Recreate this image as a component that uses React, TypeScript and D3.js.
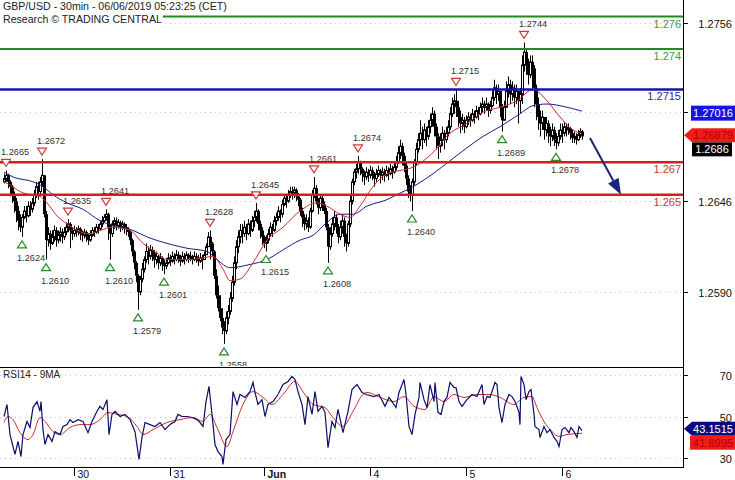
import React, { useEffect, useRef } from "react";
import * as d3 from "d3";

// ---------- DATA (prices in pips above 1.2500) ----------
const BASE = 1.25;
const firstOpen = 158;
const closes = [
  160,162,158,155,150,146,140,134,130,136,
  140,137,143,141,145,150,155,152,158,162,
  138,122,126,120,124,128,122,125,127,124,
  127,130,132,128,126,128,127,129,126,125,
  127,124,122,125,128,127,130,129,132,134,
  136,138,130,126,132,134,131,133,130,132,
  130,129,127,122,115,108,100,90,98,104,
  110,115,112,116,114,110,112,108,111,107,
  106,108,111,109,112,110,113,111,109,112,
  110,113,111,112,110,112,111,109,111,110,
  113,118,124,120,115,100,88,80,74,68,
  66,74,78,86,96,108,118,124,128,126,
  130,126,132,128,134,136,140,132,128,124,
  120,122,126,130,128,134,136,140,138,144,
  148,146,150,152,151,153,149,147,140,136,
  132,134,130,140,150,154,146,142,148,144,
  140,130,118,126,132,136,130,124,130,134,
  124,120,132,146,158,164,166,170,166,163,
  161,164,162,165,163,160,163,165,162,164,
  162,165,163,166,164,167,170,176,180,174,
  168,160,152,150,158,170,178,184,188,184,
  190,186,192,196,200,192,186,180,184,188,
  184,188,192,200,206,208,204,198,194,196,
  192,196,198,196,200,198,202,200,204,206,
  204,206,202,205,210,216,212,214,204,196,
  204,214,218,212,216,210,214,208,212,230,
  238,230,224,232,228,216,206,198,194,198,
  190,194,188,186,190,184,182,186,190,188,
  192,190,191,188,185,186,184,187,189,186,
];
const highs = [
  163,165,163,159,156,152,148,143,138,138,
  143,143,146,146,148,153,158,158,161,172,
  162,140,130,128,128,131,130,128,130,129,
  130,133,135,133,130,131,130,131,130,128,
  129,128,126,128,130,130,132,132,134,137,
  138,141,139,132,134,136,136,135,134,134,
  133,132,130,128,123,116,109,101,100,108,
  112,120,118,119,118,116,115,113,114,112,
  110,111,114,113,115,114,116,115,113,115,
  114,115,114,115,113,115,114,113,114,113,
  115,120,127,128,121,116,104,94,88,80,
  72,78,82,90,100,112,122,128,132,132,
  134,132,135,134,137,140,145,141,134,130,
  125,125,129,133,132,137,139,143,141,147,
  150,150,153,155,155,155,154,151,148,142,
  138,138,136,142,153,161,156,148,150,150,
  146,142,132,130,136,140,138,132,134,138,
  136,126,134,150,160,166,169,174,171,167,
  165,167,166,168,167,164,166,168,166,167,
  166,168,167,169,168,170,174,180,184,182,
  176,170,162,156,160,172,182,188,196,192,
  194,192,196,200,204,202,194,188,188,192,
  190,192,196,204,210,212,215,208,202,200,
  198,199,201,200,203,202,205,204,207,210,
  208,210,207,208,214,221,218,218,214,206,
  208,220,223,221,220,218,218,214,216,236,
  244,240,234,236,236,230,218,210,202,202,
  198,198,196,192,194,192,188,190,194,194,
  195,194,194,192,190,189,188,190,191,190,
];
const lows = [
  157,158,154,149,145,139,133,128,127,124,
  135,133,136,137,139,143,148,147,150,155,
  136,110,118,116,119,121,118,120,121,120,
  122,125,127,117,122,124,124,125,122,121,
  123,121,119,121,124,124,126,126,128,130,
  133,134,122,110,124,129,128,129,127,128,
  126,125,124,119,112,104,96,79,88,96,
  102,108,107,110,109,105,107,104,106,103,
  101,104,107,106,108,107,109,108,106,108,
  107,109,108,109,107,109,108,106,108,104,
  110,114,118,110,112,98,86,78,72,64,
  58,64,70,76,84,94,104,114,120,120,
  124,122,125,124,127,130,133,128,123,119,
  117,115,120,124,124,127,131,134,133,136,
  143,142,145,148,147,148,146,143,137,130,
  128,129,127,129,139,148,144,138,140,140,
  138,128,108,116,124,128,126,120,122,126,
  118,115,118,130,144,156,160,163,162,158,
  156,159,158,160,159,155,158,161,157,159,
  158,161,159,162,160,163,165,169,172,168,
  164,156,148,146,140,156,168,176,180,178,
  182,180,184,188,192,186,178,172,176,180,
  178,182,186,190,198,200,198,192,188,190,
  188,191,193,192,195,194,197,196,199,201,
  200,202,198,200,204,208,206,208,198,189,
  198,204,210,206,208,204,206,194,200,206,
  226,224,218,222,214,204,196,190,186,190,
  184,186,182,180,183,180,178,180,184,182,
  186,186,187,184,182,182,181,183,185,184,
];

// moving averages: [bar index, pips]
const blueMA: [number, number][] = [
  [0,164],[4.5,161],[14.5,158],[19.5,155],[24.5,150],[31.5,145],[39.5,141],[48,134],
  [54.5,131],[64.5,128],[71.5,124],[81.5,120],[91.5,117],[101.5,115],[106.5,110],[113,105],
  [123,107],[131.5,110],[139.5,116],[148,122],[154.5,125],[161.5,133],[168,138],[174.5,138],
  [181.5,143],[191.5,147],[198,151],[204.5,155],[214.5,163],[223,171],[231.5,179],[239.5,186],
  [248,192],[258,200],[264.5,205],[271.5,206],[281.5,204],[289,201.6],
];
const redMA: [number, number][] = [
  [0,158],[3,156],[8,152],[13,150],[18,149],[21.5,145],[26.5,137],[31.5,132],[36.5,128],
  [43,126],[48,128],[54.5,130],[63,128],[69.5,120],[76.5,114],[81.5,110],[91.5,110],[99.5,111],
  [104.5,112],[109.5,104],[113,97],[118,98],[124.5,108],[131.5,122],[139.5,130],[148,140],
  [156.5,145],[161.5,143],[168,138],[173,136],[178,143],[184.5,155],[191.5,163],[198,165],
  [204.5,167],[214.5,176],[223,188],[231.5,194],[239.5,201],[248,204],[256.5,208],[264.5,215],
  [271.5,208],[278,198],[284.5,190],[289,187.9],
];

// RSI14 and its 9MA: [bar index, value]
const rsi: [number, number][] = [
  [0,50],[1.5,55.8],[3,41.3],[5.5,31.7],[7,38],[8.5,30.7],[9.5,41.3],[11.5,47.6],[13,44.7],
  [14.5,54.3],[16.5,57.2],[18,52.5],[18.5,57.2],[19.5,43.7],[20.5,36.5],[22,41.3],[24,38],
  [25.5,42.7],[28,41.3],[29.5,45.2],[31.5,46.1],[33,48.5],[34.5,47.1],[37,48.5],[39.5,47.6],
  [42,42.2],[44,47.6],[46.5,52.5],[48,54.9],[49.5,53.4],[51.5,58.1],[52.5,41.3],[54,51],
  [55.5,52.5],[58,50],[60.5,51],[63,48.5],[65.5,42.7],[67.5,29.3],[69,39.9],[70.5,47.1],
  [73,46.1],[75.5,45.2],[78,47.1],[80.5,43.7],[83,46.1],[85.5,47.6],[87,51],[89,50],[91.5,50],
  [94,49.5],[96.5,48.5],[98,47.1],[99.5,45.2],[101,57.2],[102.5,64.5],[104,51],[105.5,36.5],
  [107,33.1],[109,30.7],[109.5,26.9],[111,38.9],[113,41.3],[114.5,62],[116.5,55.8],[118,60.6],
  [120.5,59.2],[123,62],[124.5,66.4],[125.5,61.6],[127,55.8],[129,58.1],[130.5,50],[132,55.8],
  [134.5,57.2],[137,60.6],[139.5,65.4],[142,66.9],[144,69.3],[145.5,67.8],[147,62],[149,55.8],
  [150.5,46.1],[152,59.6],[154,51],[155.5,62],[157,52.5],[159,54.9],[160.5,52],[162,35],
  [164,47.6],[165.5,44.7],[167,53.4],[169.5,42.2],[172,52.5],[174,63],[176.5,65.4],[179,61.6],
  [181.5,60.5],[185,59.6],[187.5,60.6],[190.5,54.9],[192.5,59.2],[194,57.2],[196,54.3],
  [197.5,61.6],[200,67.8],[201,60.6],[202.5,45.2],[204,41.3],[205.5,51],[207.5,59.2],[208,66.4],
  [210,58.1],[211.5,54.3],[213,65.4],[215,57.2],[215.5,66.4],[217,52],[218.5,51],[220,57.2],
  [221.5,59.2],[223,66.4],[225,63.9],[226,63.9],[227.5,57.2],[229,54.9],[231.5,58.1],[234,60.6],
  [236.5,59.6],[239,65.4],[240,55.8],[241.5,59.6],[243,59.2],[245.5,66.4],[246.5,65.4],
  [247.5,54.3],[249,47.1],[250.5,55.8],[252.5,60.6],[254,59.6],[255.5,57.2],[257.5,52],
  [258,46.1],[258.5,69.3],[260,65.4],[261,58.1],[262.5,62],[263.5,63],[265,51],[265.5,45.2],
  [267.5,43.7],[268,39.9],[270,45.2],[271.5,42.2],[273,43.7],[275,39.9],[276.5,38],[277.5,35.5],
  [279,43.7],[280.5,44.7],[282.5,42.2],[283.5,44.7],[285,42.7],[286.5,39.9],[287.5,45.2],
  [289,43.15],
];
const rsiMA: [number, number][] = [
  [0,47.1],[2,50],[4.5,48.5],[8,42.2],[12,38.9],[14.5,41.3],[18,49.5],[20.5,47.6],[24.5,42.7],
  [28,41.3],[33,44.7],[38,46.1],[43,46.1],[48,48.5],[52,51.9],[56.5,51],[61.5,50],[66.5,45.2],
  [69.5,41.3],[74.5,43.7],[81.5,47.1],[88,48.5],[94.5,49.5],[99.5,47.6],[103,51],[106.5,44.7],
  [111.5,35.5],[114.5,42.7],[119.5,55.8],[124.5,62],[129.5,59.2],[134,55.8],[139.5,60.6],
  [145.5,66.9],[149.5,62],[154.5,55.8],[160.5,54.3],[164.5,49.5],[169.5,45.2],[174.5,52.5],
  [179.5,60.6],[181.5,61.6],[188,59.2],[195,57.2],[200,59.6],[205,54.9],[210.5,53.4],[215,59.6],
  [220,57.2],[225,60.6],[230,59.2],[236.5,60.6],[243,60.6],[248,59.2],[255,55.8],[260,59.2],
  [264,59.6],[266.5,54.3],[270,47.6],[274,42.7],[277.5,40.4],[281.5,41.3],[289,41.9],
];

const priceTicks = [1.2756, 1.2701, 1.2646, 1.259];
const rsiTicks = [70, 50, 30];
const dayTickIdx = [35, 83, 130, 183, 231, 279];
const dayTickLabels = ["30", "31", "Jun", "4", "5", "6"];
const levelPrices = [1.276, 1.274, 1.2715, 1.267, 1.265];
const levelLabels = ["1.276", "1.274", "1.2715", "1.267", "1.265"];
const levelKinds = ["target", "target", "pivot", "support", "support"];
const highMarkIdx = [1, 19, 32, 51, 103, 126, 155, 177, 226, 260];
const highMarkPrice = [1.2665, 1.2672, 1.2635, 1.2641, 1.2628, 1.2645, 1.2661, 1.2674, 1.2715, 1.2744];
const lowMarkIdx = [9, 21, 53, 67, 80, 110, 131, 162, 204, 249, 276];
const lowMarkPrice = [1.2624, 1.261, 1.261, 1.2579, 1.2601, 1.2558, 1.2615, 1.2608, 1.264, 1.2689, 1.2678];
const lastBlueMA = 1.27016;
const lastRedMA = 1.26879;
const lastPrice = 1.2686;
const lastRsi = 43.1515;
const lastRsiMA = 41.8995;
const arrowFrom: [number, number] = [293, 1.2685];
const arrowTo: [number, number] = [308.5, 1.265];
const titleLines = ["GBP/USD - 30min - 06/06/2019 05:23:25 (CET)", "Research \u00A9 TRADING CENTRAL"];

const FONT = "'Liberation Sans', Arial, sans-serif";
const kindColor: Record<string, string> = { target: "#1f8a1f", pivot: "#1414a8", support: "#d41e1e" };
const kindWidth: Record<string, number> = { target: 2, pivot: 2.5, support: 2.5 };
const kindText: Record<string, string> = { target: "#3c9a3c", pivot: "#2a2a9a", support: "#cc3333" };

export default function App() {
  const ref = useRef<SVGSVGElement>(null);

  useEffect(() => {
    document.body.style.margin = "0";
    const svg = d3.select(ref.current);
    svg.selectAll("*").remove();

    const AX = 683;
    const MAIN_BOTTOM = 366;
    const RSI_TOP = 367;
    const RSI_BOTTOM = 467;

    const x = d3.scaleLinear().domain([0, 289]).range([4, 582]);
    const y = d3.scaleLinear().domain([1.259, 1.2756]).range([292, 23]);
    const yr = d3.scaleLinear().domain([30, 70]).range([458, 375]);
    const P = (v: number) => BASE + v / 10000;

    svg.append("rect").attr("width", 735).attr("height", 480).attr("fill", "#fff");

    const defs = svg.append("defs");
    defs.append("clipPath").attr("id", "mainclip").append("rect")
      .attr("x", 0).attr("y", 0).attr("width", AX).attr("height", MAIN_BOTTOM);
    defs.append("clipPath").attr("id", "rsiclip").append("rect")
      .attr("x", 0).attr("y", RSI_TOP).attr("width", AX).attr("height", RSI_BOTTOM - RSI_TOP);

    // grid
    const main = svg.append("g").attr("clip-path", "url(#mainclip)");
    priceTicks.forEach((t) => {
      main.append("line").attr("x1", 0).attr("x2", AX)
        .attr("y1", Math.round(y(t)) + 0.5).attr("y2", Math.round(y(t)) + 0.5)
        .attr("stroke", "#c4c4c4").attr("stroke-dasharray", "1,4");
    });

    // candles
    const bars = closes.map((c, i) => {
      const o = i === 0 ? firstOpen : closes[i - 1];
      return { i, o, c, h: Math.max(highs[i], o, c), l: Math.min(lows[i], o, c) };
    });
    const cg = main.append("g");
    bars.forEach((b) => {
      const cx = Math.round(x(b.i));
      cg.append("line").attr("x1", cx + 0.5).attr("x2", cx + 0.5)
        .attr("y1", y(P(b.h))).attr("y2", y(P(b.l))).attr("stroke", "#000").attr("stroke-width", 1);
      const top = y(P(Math.max(b.o, b.c)));
      const bot = y(P(Math.min(b.o, b.c)));
      const hgt = Math.max(1.5, bot - top);
      if (b.c >= b.o) {
        cg.append("rect").attr("x", cx - 0.5).attr("y", top).attr("width", 2).attr("height", hgt)
          .attr("fill", "#fff").attr("stroke", "#000").attr("stroke-width", 1);
      } else {
        cg.append("rect").attr("x", cx - 1).attr("y", top).attr("width", 3).attr("height", hgt)
          .attr("fill", "#000");
      }
    });

    // moving averages
    const maLine = d3.line<[number, number]>().x((d) => x(d[0])).y((d) => y(P(d[1]))).curve(d3.curveMonotoneX);
    main.append("path").attr("d", maLine(blueMA)).attr("fill", "none").attr("stroke", "#1c1c8c").attr("stroke-width", 1);
    main.append("path").attr("d", maLine(redMA)).attr("fill", "none").attr("stroke", "#cc2a2a").attr("stroke-width", 1);

    // level lines
    levelPrices.forEach((p, k) => {
      const yy = y(p);
      main.append("line").attr("x1", 0).attr("x2", AX).attr("y1", yy).attr("y2", yy)
        .attr("stroke", kindColor[levelKinds[k]]).attr("stroke-width", kindWidth[levelKinds[k]]);
      main.append("text").attr("x", AX - 2).attr("y", yy + 11).attr("text-anchor", "end")
        .attr("font-family", FONT).attr("font-size", 11).attr("fill", kindText[levelKinds[k]])
        .text(levelLabels[k]);
    });

    // markers
    highMarkIdx.forEach((i, k) => {
      const cx = x(i);
      const yy = y(highMarkPrice[k]);
      main.append("path")
        .attr("d", `M${cx - 4.5},${yy - 11}L${cx + 4.5},${yy - 11}L${cx},${yy - 4}Z`)
        .attr("fill", "#fff").attr("stroke", "#d23a3a").attr("stroke-width", 1.2);
      main.append("text").attr("x", cx - 5).attr("y", yy - 15)
        .attr("font-family", FONT).attr("font-size", 9.2).attr("fill", "#333")
        .text(highMarkPrice[k].toFixed(4));
    });
    lowMarkIdx.forEach((i, k) => {
      const cx = x(i);
      const yy = y(lowMarkPrice[k]);
      main.append("path")
        .attr("d", `M${cx - 4.5},${yy + 11}L${cx + 4.5},${yy + 11}L${cx},${yy + 4}Z`)
        .attr("fill", "#fff").attr("stroke", "#2a8a2a").attr("stroke-width", 1.2);
      main.append("text").attr("x", cx - 5).attr("y", yy + 24)
        .attr("font-family", FONT).attr("font-size", 9.2).attr("fill", "#333")
        .text(lowMarkPrice[k].toFixed(4));
    });

    // forecast arrow
    const ax1 = x(arrowFrom[0]), ay1 = y(arrowFrom[1]);
    const ax2 = x(arrowTo[0]), ay2 = y(arrowTo[1]);
    const ang = Math.atan2(ay2 - ay1, ax2 - ax1);
    const headL = 16, headW = 6;
    const bx = ax2 - headL * Math.cos(ang), by = ay2 - headL * Math.sin(ang);
    main.append("line").attr("x1", ax1).attr("y1", ay1).attr("x2", bx).attr("y2", by)
      .attr("stroke", "#1a237e").attr("stroke-width", 2);
    main.append("path")
      .attr("d", `M${ax2},${ay2}L${bx + headW * Math.sin(ang)},${by - headW * Math.cos(ang)}L${bx - headW * Math.sin(ang)},${by + headW * Math.cos(ang)}Z`)
      .attr("fill", "#1a237e");

    // title with white background
    titleLines.forEach((t, k) => {
      const g = svg.append("g");
      const bg = g.append("rect").attr("fill", "#fff");
      const tx = g.append("text").attr("x", 3).attr("y", 10 + k * 12.5)
        .attr("font-family", FONT).attr("font-size", 10.6).attr("fill", "#222").text(t);
      const w = (tx.node() as SVGTextElement).getComputedTextLength();
      bg.attr("x", 0).attr("y", k * 12.5).attr("width", w + 4).attr("height", 12.5);
    });

    // RSI panel
    svg.append("line").attr("x1", 0).attr("x2", AX).attr("y1", RSI_TOP + 0.5).attr("y2", RSI_TOP + 0.5).attr("stroke", "#000");
    svg.append("line").attr("x1", 0).attr("x2", AX).attr("y1", RSI_BOTTOM + 0.5).attr("y2", RSI_BOTTOM + 0.5).attr("stroke", "#000");
    const rg = svg.append("g").attr("clip-path", "url(#rsiclip)");
    rsiTicks.forEach((t) => {
      rg.append("line").attr("x1", 0).attr("x2", AX)
        .attr("y1", Math.round(yr(t)) + 0.5).attr("y2", Math.round(yr(t)) + 0.5)
        .attr("stroke", "#c4c4c4").attr("stroke-dasharray", "1,4");
    });
    const rLine = d3.line<[number, number]>().x((d) => x(d[0])).y((d) => yr(d[1]));
    rg.append("path").attr("d", rLine.curve(d3.curveMonotoneX)(rsiMA)).attr("fill", "none").attr("stroke", "#cc2a2a").attr("stroke-width", 1);
    rg.append("path").attr("d", rLine.curve(d3.curveLinear)(rsi)).attr("fill", "none").attr("stroke", "#0d0d6e").attr("stroke-width", 1.2);
    svg.append("text").attr("x", 3).attr("y", 378).attr("font-family", FONT).attr("font-size", 10)
      .attr("fill", "#222").text("RSI14 - 9MA");

    // value badge positions
    const by1 = y(lastBlueMA) + 2;
    const ry1 = y(lastRedMA) + 2;
    const ky = ry1 + 14;
    const badgeYs = [by1, ry1, ky];

    // right axis
    svg.append("line").attr("x1", AX + 0.5).attr("x2", AX + 0.5).attr("y1", 0).attr("y2", RSI_BOTTOM + 1).attr("stroke", "#000");
    priceTicks.forEach((t) => {
      const yy = Math.round(y(t)) + 0.5;
      svg.append("line").attr("x1", AX).attr("x2", AX + 5).attr("y1", yy).attr("y2", yy).attr("stroke", "#000");
      const hidden = badgeYs.some((b) => Math.abs(b - yy) < 10);
      if (!hidden) {
        svg.append("text").attr("x", 732).attr("y", yy + 4).attr("text-anchor", "end")
          .attr("font-family", FONT).attr("font-size", 11).attr("fill", "#111").text(t.toFixed(4));
      }
    });
    rsiTicks.forEach((t) => {
      const yy = Math.round(yr(t)) + 0.5;
      svg.append("line").attr("x1", AX).attr("x2", AX + 5).attr("y1", yy).attr("y2", yy).attr("stroke", "#000");
      svg.append("text").attr("x", 732).attr("y", yy + 4).attr("text-anchor", "end")
        .attr("font-family", FONT).attr("font-size", 11).attr("fill", "#111").text(String(t));
    });

    // value badges
    svg.append("rect").attr("x", 691).attr("y", by1 - 7.5).attr("width", 44).attr("height", 15).attr("fill", "#1414e6");
    svg.append("text").attr("x", 713).attr("y", by1 + 4).attr("text-anchor", "middle").attr("font-family", FONT)
      .attr("font-size", 11).attr("fill", "#fff").text(lastBlueMA.toFixed(5));
    svg.append("path").attr("d", `M${AX + 1},${ry1}L${AX + 9},${ry1 - 7}L735,${ry1 - 7}L735,${ry1 + 7}L${AX + 9},${ry1 + 7}Z`).attr("fill", "#ef1c1c");
    svg.append("text").attr("x", 713).attr("y", ry1 + 4).attr("text-anchor", "middle").attr("font-family", FONT)
      .attr("font-size", 11).attr("fill", "#b40000").text(lastRedMA.toFixed(5));
    svg.append("rect").attr("x", 692).attr("y", ky - 7).attr("width", 40).attr("height", 14).attr("fill", "#000");
    svg.append("text").attr("x", 712).attr("y", ky + 4).attr("text-anchor", "middle").attr("font-family", FONT)
      .attr("font-size", 11).attr("fill", "#fff").text(lastPrice.toFixed(4));

    const ny = yr(lastRsi) - 2;
    svg.append("path").attr("d", `M${AX + 1},${ny}L${AX + 9},${ny - 7}L735,${ny - 7}L735,${ny + 7}L${AX + 9},${ny + 7}Z`).attr("fill", "#0a0a80");
    svg.append("text").attr("x", 713).attr("y", ny + 4).attr("text-anchor", "middle").attr("font-family", FONT)
      .attr("font-size", 11).attr("fill", "#fff").text(lastRsi.toFixed(4));
    const my = ny + 14;
    svg.append("rect").attr("x", 690).attr("y", my - 7).attr("width", 45).attr("height", 14).attr("fill", "#ef1c1c");
    svg.append("text").attr("x", 713).attr("y", my + 4).attr("text-anchor", "middle").attr("font-family", FONT)
      .attr("font-size", 11).attr("fill", "#b40000").text(lastRsiMA.toFixed(4));

    // date axis
    dayTickIdx.forEach((i, k) => {
      const xx = Math.round(x(i)) + 0.5;
      svg.append("line").attr("x1", xx).attr("x2", xx).attr("y1", RSI_BOTTOM).attr("y2", 476).attr("stroke", "#000");
      svg.append("text").attr("x", xx + 3).attr("y", 478).attr("font-family", FONT).attr("font-size", 10.5)
        .attr("font-weight", dayTickLabels[k] === "Jun" ? "bold" : "normal").attr("fill", "#111").text(dayTickLabels[k]);
    });
  }, []);

  return <svg ref={ref} width={735} height={480} style={{ display: "block" }} />;
}
